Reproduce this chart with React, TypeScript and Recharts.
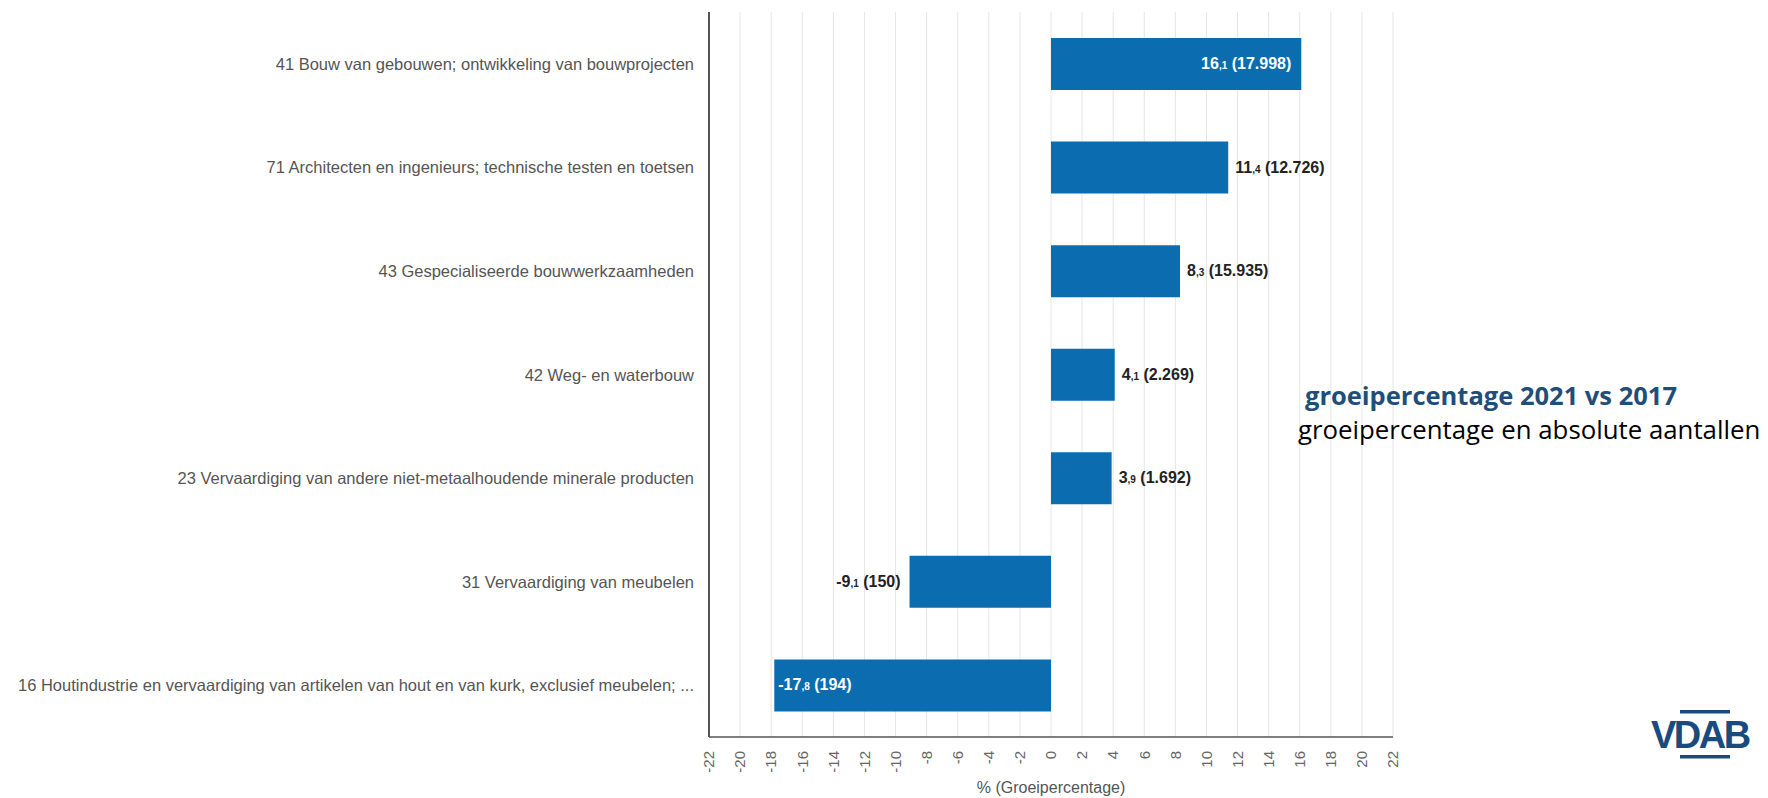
import { Bar, BarChart, CartesianGrid, LabelList, XAxis, YAxis } from 'recharts'

const categories = [
  '41 Bouw van gebouwen; ontwikkeling van bouwprojecten',
  '71 Architecten en ingenieurs; technische testen en toetsen',
  '43 Gespecialiseerde bouwwerkzaamheden',
  '42 Weg- en waterbouw',
  '23 Vervaardiging van andere niet-metaalhoudende minerale producten',
  '31 Vervaardiging van meubelen',
  '16 Houtindustrie en vervaardiging van artikelen van hout en van kurk, exclusief meubelen; ...',
]
const growth = [16.1, 11.4, 8.3, 4.1, 3.9, -9.1, -17.8]
const counts = [17998, 12726, 15935, 2269, 1692, 150, 194]
const xTicks = [-22, -20, -18, -16, -14, -12, -10, -8, -6, -4, -2, 0, 2, 4, 6, 8, 10, 12, 14, 16, 18, 20, 22]

const data = categories.map((name, i) => ({ name, growth: growth[i], count: counts[i] }))

const font = '"Liberation Sans", Arial, sans-serif'
const barColor = '#0b6cb0'

const formatCount = (n: number) => String(n).replace(/\B(?=(\d{3})+(?!\d))/g, '.')

function CategoryTick({ x, y, payload }: any) {
  return (
    <text x={x} y={y} dy={6} textAnchor="end" fontSize={16.5} fill="#555" fontFamily={font}>
      {payload.value}
    </text>
  )
}

function ValueTick({ x, y, payload }: any) {
  return (
    <text
      transform={`translate(${x},${y + 6}) rotate(-90)`}
      textAnchor="end"
      dy="0.35em"
      fontSize={15}
      fill="#666"
      fontFamily={font}
    >
      {payload.value}
    </text>
  )
}

function BarValueLabel(props: any) {
  const { x, y, width, height, value, index } = props
  const left = Math.min(x, x + width)
  const right = Math.max(x, x + width)
  const inside = Math.abs(value) >= 15
  const [intPart, decPart] = value.toFixed(1).split('.')
  const count = counts[index] ?? 0
  let tx = 0
  let anchor: 'start' | 'end' = 'start'
  if (value >= 0) {
    tx = inside ? right - 10 : right + 7
    anchor = inside ? 'end' : 'start'
  } else {
    tx = inside ? left + 4 : left - 9
    anchor = inside ? 'start' : 'end'
  }
  return (
    <text
      x={tx}
      y={y + height / 2}
      dy={5}
      textAnchor={anchor}
      fontSize={16}
      fontWeight="bold"
      fill={inside ? '#fff' : '#222'}
      fontFamily={font}
    >
      <tspan>{intPart}</tspan>
      <tspan fontSize={10}>,{decPart}</tspan>
      <tspan> ({formatCount(count)})</tspan>
    </text>
  )
}

export default function App() {
  return (
    <div style={{ position: 'relative', width: 1760, height: 790 }}>
      <BarChart
        width={1760}
        height={790}
        data={data}
        layout="vertical"
        margin={{ top: 4, right: 375, bottom: 1, left: 0 }}
      >
        <CartesianGrid horizontal={false} stroke="#e6e6e6" />
        <XAxis
          type="number"
          domain={[-22, 22]}
          ticks={xTicks}
          interval={0}
          height={60}
          tickLine={false}
          axisLine={{ stroke: '#555', strokeWidth: 1.5 }}
          tick={<ValueTick />}
          label={{ value: '% (Groeipercentage)', position: 'insideBottom', offset: 4, fill: '#555', fontSize: 16, fontFamily: font }}
        />
        <YAxis
          type="category"
          dataKey="name"
          width={701}
          tickLine={false}
          tickMargin={9}
          axisLine={{ stroke: '#555', strokeWidth: 2 }}
          tick={<CategoryTick />}
        />
        <Bar dataKey="growth" fill={barColor} barSize={52} isAnimationActive={false}>
          <LabelList dataKey="growth" content={<BarValueLabel />} />
        </Bar>
      </BarChart>
      <svg
        width={1768}
        height={798}
        style={{ position: 'absolute', left: -8, top: -8, pointerEvents: 'none' }}
      >
        <text x={1305} y={405} fontSize={25.5} fontWeight="bold" fill="#1f4e79" fontFamily='"Open Sans", sans-serif'>
          groeipercentage 2021 vs 2017
        </text>
        <text x={1298} y={439} fontSize={25.8} fill="#000" fontFamily='"Open Sans", sans-serif'>
          groeipercentage en absolute aantallen
        </text>
        <rect x={1680} y={710} width={50} height={3.5} fill="#1a4b80" />
        <rect x={1680} y={755} width={50} height={3.5} fill="#1a4b80" />
        <text x={1651} y={748} fontSize={38} fontWeight="bold" fill="#1a4b80" letterSpacing={-2.5} fontFamily={font}>
          VDAB
        </text>
      </svg>
    </div>
  )
}
